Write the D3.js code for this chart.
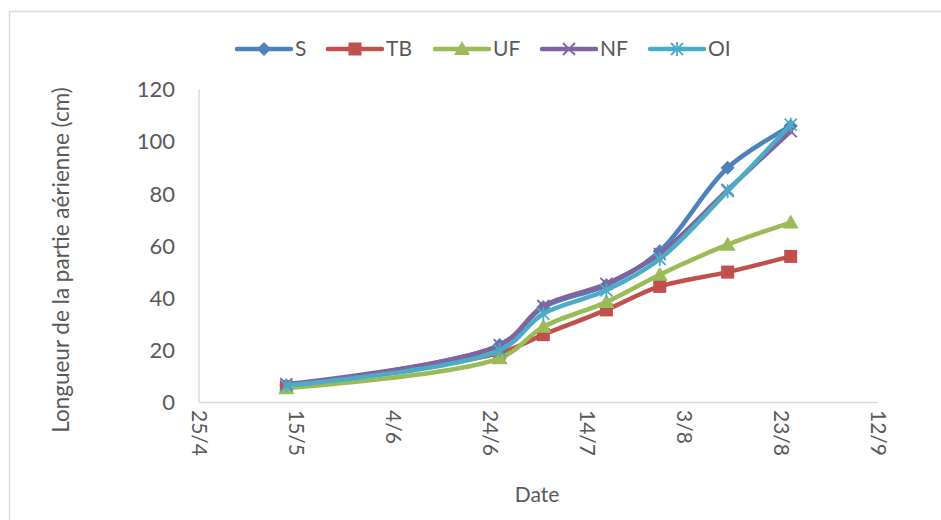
<!DOCTYPE html>
<html>
<head>
<meta charset="utf-8">
<script src="https://d3js.org/d3.v7.min.js"></script>
<style>
body { margin: 0; background: #fff; }
text { font-family: Lato, "Open Sans", sans-serif; fill: #595959; }
</style>
</head>
<body>
<div id="chart"></div>
<script>

// data
var dates = ["13/5", "26/6", "5/7", "18/7", "29/7", "12/8", "25/8"];
var tickDates = ["25/4", "15/5", "4/6", "24/6", "14/7", "3/8", "23/8", "12/9"];
var yTicks = [0, 20, 40, 60, 80, 100, 120];
var seriesNames = ["S", "TB", "UF", "NF", "OI"];
var seriesColors = ["#4F81BD", "#C0504D", "#9BBB59", "#8064A2", "#4BACC6"];
var S  = [6.5, 22, 36.5, 45, 58, 90, 106];
var TB = [6, 19, 26, 35.5, 44.5, 50, 56];
var UF = [5.5, 17, 29, 38.5, 49, 60.5, 69];
var NF = [7, 22, 37, 45.5, 57, 81.5, 104];
var OI = [6.5, 20, 34, 43, 55, 81, 106.5];
var seriesValues = [S, TB, UF, NF, OI];

var width = 941, height = 520;
var margin = {top: 89.5, right: 63, bottom: 117.5, left: 199};

var svg = d3.select("#chart")
  .append("svg")
    .attr("width", width)
    .attr("height", height);

// outer chart border
svg.append("rect")
  .attr("x", 9.5).attr("y", 11.5)
  .attr("width", 1000).attr("height", 600)
  .attr("fill", "none")
  .attr("stroke", "#D9D9D9")
  .attr("stroke-width", 1.5);

var parse = function(s) {
  var p = s.split("/");
  return new Date(2000, +p[1] - 1, +p[0]);
};

var x = d3.scaleTime()
  .domain([parse(tickDates[0]), parse(tickDates[tickDates.length - 1])])
  .range([margin.left, width - margin.right]);

var y = d3.scaleLinear()
  .domain([0, 120])
  .range([height - margin.bottom, margin.top]);

// axis lines
svg.append("line")
  .attr("x1", x.range()[0]).attr("x2", x.range()[0])
  .attr("y1", y(0)).attr("y2", y(120))
  .attr("stroke", "#D9D9D9").attr("stroke-width", 1.5);
svg.append("line")
  .attr("x1", x.range()[0]).attr("x2", x.range()[1])
  .attr("y1", y(0)).attr("y2", y(0))
  .attr("stroke", "#D9D9D9").attr("stroke-width", 1.5);

// y tick labels
svg.append("g").selectAll("text")
  .data(yTicks)
  .enter().append("text")
    .attr("x", 175)
    .attr("y", function(d) { return y(d); })
    .attr("dy", "0.35em")
    .attr("text-anchor", "end")
    .attr("font-size", "22px")
    .text(function(d) { return d; });

// x tick labels, rotated
svg.append("g").selectAll("text")
  .data(tickDates)
  .enter().append("text")
    .attr("transform", function(d) { return "translate(" + x(parse(d)) + ",410) rotate(90)"; })
    .attr("dy", "0.35em")
    .attr("text-anchor", "start")
    .attr("font-size", "21px")
    .text(function(d) { return d; });

// axis titles
svg.append("text")
  .attr("x", 537).attr("y", 502)
  .attr("text-anchor", "middle")
  .attr("font-size", "21px")
  .text("Date");

svg.append("text")
  .attr("transform", "translate(69,260) rotate(-90)")
  .attr("text-anchor", "middle")
  .attr("font-size", "22.5px")
  .text("Longueur de la partie aérienne (cm)");

var line = d3.line()
  .x(function(d) { return x(parse(d.date)); })
  .y(function(d) { return y(d.value); })
  .curve(d3.curveCatmullRom.alpha(0.5));

function drawMarker(g, i, cx, cy) {
  var c = seriesColors[i];
  if (i === 0) {
    g.append("path").attr("transform", "translate(" + cx + "," + cy + ") rotate(45)")
      .attr("d", "M-5,-5H5V5H-5Z").attr("fill", c);
  } else if (i === 1) {
    g.append("rect").attr("x", cx - 6.5).attr("y", cy - 6.5)
      .attr("width", 13).attr("height", 13).attr("fill", c);
  } else if (i === 2) {
    g.append("path").attr("transform", "translate(" + cx + "," + cy + ")")
      .attr("d", "M0,-8L8,6H-8Z").attr("fill", c);
  } else if (i === 3) {
    g.append("path").attr("transform", "translate(" + cx + "," + cy + ")")
      .attr("d", "M-6,-6L6,6M-6,6L6,-6")
      .attr("stroke", c).attr("stroke-width", 1.8).attr("fill", "none");
  } else {
    g.append("path").attr("transform", "translate(" + cx + "," + cy + ")")
      .attr("d", "M-6,-6L6,6M-6,6L6,-6M0,-7V7")
      .attr("stroke", c).attr("stroke-width", 1.8).attr("fill", "none");
  }
}

seriesNames.forEach(function(name, i) {
  var pts = dates.map(function(d, j) { return {date: d, value: seriesValues[i][j]}; });
  var g = svg.append("g");
  g.append("path")
    .attr("d", line(pts))
    .attr("fill", "none")
    .attr("stroke", seriesColors[i])
    .attr("stroke-width", 4.5)
    .attr("stroke-linecap", "round");
  pts.forEach(function(p) {
    drawMarker(g, i, x(parse(p.date)), y(p.value));
  });
});

// legend
var legendX = [237, 328, 435, 542, 650];
seriesNames.forEach(function(name, i) {
  var g = svg.append("g");
  var lx = legendX[i];
  g.append("line")
    .attr("x1", lx).attr("x2", lx + 54)
    .attr("y1", 49).attr("y2", 49)
    .attr("stroke", seriesColors[i]).attr("stroke-width", 4.5)
    .attr("stroke-linecap", "round");
  drawMarker(g, i, lx + 27, 49);
  g.append("text")
    .attr("x", lx + 58).attr("y", 49)
    .attr("dy", "0.35em")
    .attr("font-size", "21px")
    .text(name);
});

</script>
</body>
</html>
